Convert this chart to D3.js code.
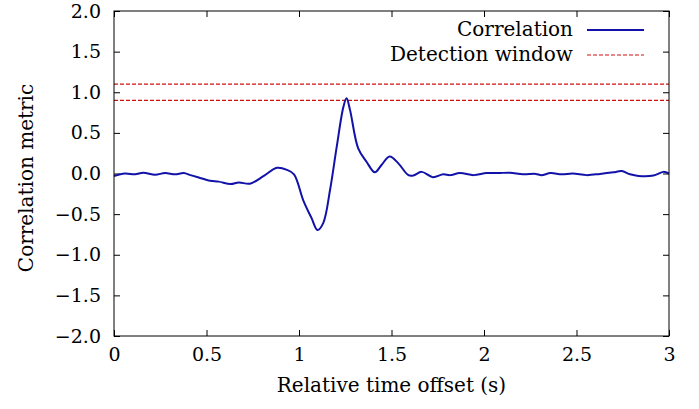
<!DOCTYPE html>
<html>
<head>
<meta charset="utf-8">
<script src="https://cdn.jsdelivr.net/npm/d3@7"></script>
<style>
  body { margin: 0; background: #fff; }
</style>
</head>
<body>
<div id="chart"></div>
<script>
// time offsets (s) and correlation values
const times = [0, 0.059, 0.114, 0.158, 0.222, 0.276, 0.33, 0.377, 0.414, 0.458, 0.52, 0.566, 0.63, 0.675, 0.735,
  0.81, 0.881, 0.935, 0.973, 1.023, 1.068, 1.1, 1.131, 1.168, 1.204, 1.24, 1.257, 1.276, 1.32, 1.365, 1.41,
  1.446, 1.49, 1.537, 1.591, 1.618, 1.663, 1.723, 1.78, 1.816, 1.87, 1.944, 2.014, 2.077, 2.14, 2.21, 2.28,
  2.31, 2.36, 2.42, 2.48, 2.555, 2.627, 2.7, 2.744, 2.79, 2.835, 2.916, 2.97, 3.0];
const corr = [-0.03, 0.0, -0.01, 0.01, -0.015, 0.005, -0.01, 0.005, -0.02, -0.05, -0.09, -0.1, -0.13, -0.11, -0.125,
  -0.03, 0.07, 0.045, -0.01, -0.33, -0.55, -0.695, -0.61, -0.2, 0.33, 0.82, 0.925, 0.78, 0.31, 0.145, 0.015,
  0.105, 0.21, 0.125, -0.02, -0.025, 0.02, -0.045, -0.01, -0.02, 0.005, -0.02, 0.005, 0.005, 0.01, -0.01, -0.005,
  -0.02, 0.005, -0.01, 0.0, -0.02, -0.005, 0.015, 0.03, -0.01, -0.03, -0.025, 0.02, 0.0];

// detection window bounds
const windowBounds = [0.9, 1.1];

const xTicks = [0, 0.5, 1, 1.5, 2, 2.5, 3];
const yTicks = [-2, -1.5, -1, -0.5, 0, 0.5, 1, 1.5, 2];

const legendItems = ["Correlation", "Detection window"];

const FONT = "'DejaVu Serif', 'Liberation Serif', serif";
const BLUE = "#1212a8";
const RED = "#d01010";

const W = 699, H = 409;
const margin = {top: 11, right: 30, bottom: 73, left: 114};
const width = W - margin.left - margin.right;
const height = H - margin.top - margin.bottom;

const svg = d3.select("#chart").append("svg")
    .attr("width", W)
    .attr("height", H);

const g = svg.append("g")
    .attr("transform", `translate(${margin.left},${margin.top})`);

const x = d3.scaleLinear().domain([0, 3]).range([0, width]);
const y = d3.scaleLinear().domain([-2, 2]).range([height, 0]);

// axes with inward ticks, mirrored on top and right
g.append("g")
    .attr("transform", `translate(0,${height})`)
    .call(d3.axisBottom(x).tickValues(xTicks).tickSizeInner(-6).tickSizeOuter(0).tickPadding(12)
        .tickFormat(d => d % 1 === 0 ? d3.format("d")(d) : d3.format(".1f")(d)));

g.append("g")
    .call(d3.axisTop(x).tickValues(xTicks).tickSizeInner(-6).tickSizeOuter(0).tickFormat(""));

g.append("g")
    .call(d3.axisLeft(y).tickValues(yTicks).tickSizeInner(-6).tickSizeOuter(0).tickPadding(13)
        .tickFormat(d => d < 0 ? "\u2212" + d3.format(".1f")(-d) : d3.format(".1f")(d)));

g.append("g")
    .attr("transform", `translate(${width},0)`)
    .call(d3.axisRight(y).tickValues(yTicks).tickSizeInner(-6).tickSizeOuter(0).tickFormat(""));

g.selectAll(".domain").remove();
g.selectAll(".tick line").attr("stroke", "#000").attr("stroke-width", 1);
g.selectAll(".tick text").style("font-family", FONT).style("font-size", "19px").attr("fill", "#000");

// detection window lines
g.selectAll(".window")
    .data(windowBounds)
    .enter().append("line")
    .attr("class", "window")
    .attr("x1", 0).attr("x2", width)
    .attr("y1", d => y(d)).attr("y2", d => y(d))
    .attr("stroke", RED)
    .attr("stroke-width", 1.1)
    .attr("stroke-dasharray", "4,2");

// correlation curve
const pts = times.map((t, i) => [t, corr[i]]);
const line = d3.line()
    .x(d => x(d[0]))
    .y(d => y(d[1]))
    .curve(d3.curveCatmullRom.alpha(0.5));

g.append("path")
    .datum(pts)
    .attr("fill", "none")
    .attr("stroke", BLUE)
    .attr("stroke-width", 2)
    .attr("d", line);

// frame
g.append("rect")
    .attr("width", width)
    .attr("height", height)
    .attr("fill", "none")
    .attr("stroke", "#000")
    .attr("stroke-width", 1);

// legend
const legend = g.append("g");
legendItems.forEach((name, i) => {
    const ly = 19 + i * 25;
    legend.append("text")
        .attr("x", 459)
        .attr("y", ly + 6)
        .attr("text-anchor", "end")
        .style("font-family", FONT)
        .style("font-size", "20px")
        .text(name);
    legend.append("line")
        .attr("x1", 473).attr("x2", 530)
        .attr("y1", ly).attr("y2", ly)
        .attr("stroke", i === 0 ? BLUE : RED)
        .attr("stroke-width", i === 0 ? 2 : 1.1)
        .attr("stroke-dasharray", i === 0 ? null : "4,2");
});

// axis titles
svg.append("text")
    .attr("x", margin.left + width / 2)
    .attr("y", 392)
    .attr("text-anchor", "middle")
    .style("font-family", FONT)
    .style("font-size", "20px")
    .text("Relative time offset (s)");

svg.append("text")
    .attr("transform", `translate(33,178) rotate(-90)`)
    .attr("text-anchor", "middle")
    .style("font-family", FONT)
    .style("font-size", "20px")
    .text("Correlation metric");
</script>
</body>
</html>
